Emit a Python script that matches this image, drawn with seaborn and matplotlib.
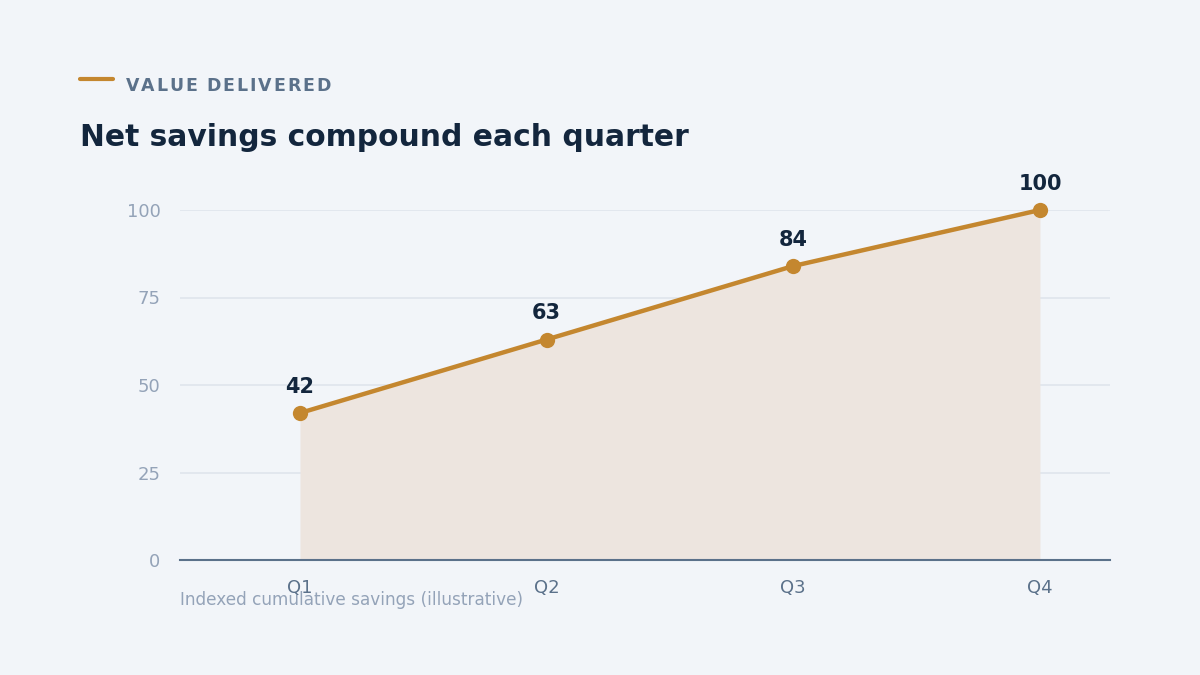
import matplotlib
matplotlib.use("Agg")
import matplotlib.pyplot as plt
import seaborn as sns
import pandas as pd

# data
quarters = ["Q1", "Q2", "Q3", "Q4"]
savings = [42, 63, 84, 100]
y_ticks = [0, 25, 50, 75, 100]

BG = "#f2f5f9"
ACCENT = "#c4872f"
FILL = "#ede5df"
DARK = "#13263d"
MUTED = "#94a3b8"
SLATE = "#5b718a"

sns.set_theme(style="white")
plt.rcParams["font.family"] = ["DejaVu Sans"]

df = pd.DataFrame({"quarter": quarters, "savings": savings})
df["pos"] = range(len(df))

fig = plt.figure(figsize=(12, 6.75), dpi=100, facecolor=BG)
ax = fig.add_axes([0.15, 1 - 560 / 675, 0.775, 350 / 675])
ax.set_facecolor(BG)

ax.fill_between(df["pos"], 0, df["savings"], color=FILL, lw=0, zorder=1)
sns.lineplot(data=df, x="pos", y="savings", ax=ax, color=ACCENT, lw=3.2,
             marker="o", markersize=11, markeredgewidth=0, zorder=3,
             clip_on=False)

for x, v in zip(df["pos"], df["savings"]):
    ax.annotate(str(v), (x, v), xytext=(0, 19), textcoords="offset points",
                ha="center", va="center", fontsize=15, fontweight="bold",
                color=DARK, zorder=4)

ax.set_xlim(-0.4865, 3.284)
ax.set_ylim(0, 100)
ax.set_xticks(df["pos"])
ax.set_xticklabels(quarters)
ax.set_yticks(y_ticks)
ax.tick_params(axis="x", length=0, pad=14, labelsize=13, labelcolor=SLATE)
ax.tick_params(axis="y", length=0, pad=14, labelsize=13, labelcolor=MUTED)
ax.grid(axis="y", color="#dfe5ec", lw=1.2, zorder=0)
ax.set_axisbelow(True)
for s in ["top", "right", "left"]:
    ax.spines[s].set_visible(False)
ax.spines["bottom"].set_color(SLATE)
ax.spines["bottom"].set_linewidth(1.5)
ax.spines["bottom"].set_zorder(5)
ax.set_xlabel("")
ax.set_ylabel("")

# header
fig.add_artist(plt.Line2D([80 / 1200, 113 / 1200], [1 - 79 / 675] * 2,
                          color=ACCENT, lw=3, solid_capstyle="round"))

# letter-spaced kicker
renderer = fig.canvas.get_renderer()
x_px = 126
for ch in "VALUE DELIVERED":
    t = fig.text(x_px / 1200, 1 - 86 / 675, ch, fontsize=12.5, fontweight="bold",
                 color=SLATE, va="center", ha="left")
    w = t.get_window_extent(renderer).width if ch != " " else 5
    x_px += w + 1.9

fig.text(80 / 1200, 1 - 138 / 675, "Net savings compound each quarter",
         fontsize=21.4, fontweight="bold", color=DARK, va="center", ha="left")

fig.text(180 / 1200, 1 - 600 / 675, "Indexed cumulative savings (illustrative)",
         fontsize=12.2, color=MUTED, va="center", ha="left")

fig.savefig("out.png", dpi=100, facecolor=BG)
